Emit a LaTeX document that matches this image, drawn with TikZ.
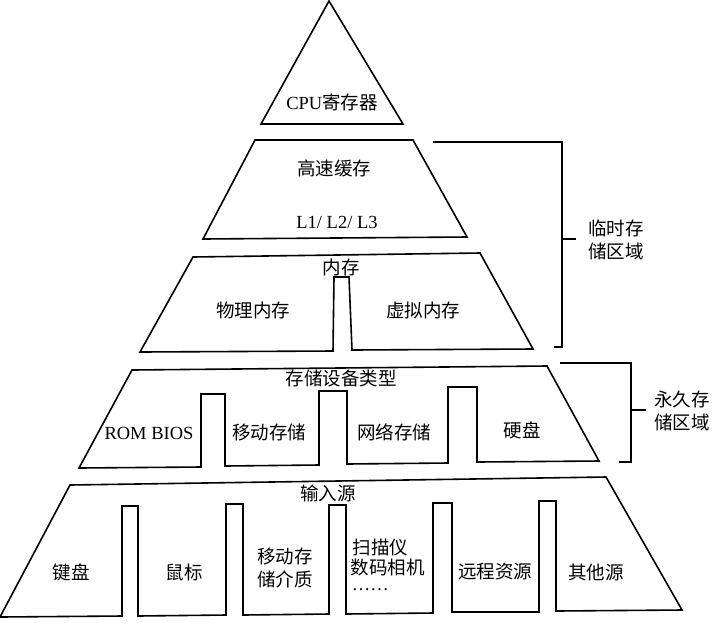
\documentclass[tikz,border=0pt]{standalone}
\usepackage{fontspec}
\setmainfont{Liberation Serif}
\newfontfamily\cjk{Noto Sans CJK SC}
\newcommand{\lat}[1]{{\rmfamily #1}}

\begin{document}
\begin{tikzpicture}
  [x=1pt,y=-1pt,line width=1.6pt,line join=miter,
   every node/.style={inner sep=0pt,font=\fontsize{18.5}{23}\selectfont\cjk,align=center}]
  \useasboundingbox (0,0) rectangle (719,622);

  % levels of the pyramid
  \draw (329,1) -- (403,124) -- (261,124) -- cycle;
  \draw (255,140) -- (413,140) -- (467,237) -- (203,239) -- cycle;
  \draw (193,257) -- (480,253) -- (533,349) -- (352,350) -- (349,277)
    -- (334,277) -- (333,351) -- (140,352) -- cycle;
  \draw (132,370) -- (547,366) -- (599,461)
    -- (477,462) -- (477,387) -- (448,387) -- (448,463)
    -- (347,464) -- (347,391) -- (319,391) -- (319,465)
    -- (225,466) -- (225,394) -- (201,394) -- (201,467)
    -- (79,468) -- cycle;
  \draw (70,485) -- (606,477) -- (682,610)
    -- (556,611) -- (556,501) -- (539,501) -- (539,612)
    -- (452,612) -- (452,503) -- (433,503) -- (433,613)
    -- (346,614) -- (346,505) -- (329,505) -- (329,614)
    -- (243,615) -- (243,504) -- (226,504) -- (226,615)
    -- (138,616) -- (138,506) -- (122,506) -- (122,616)
    -- (0,617) -- cycle;

  % brackets
  \draw (433,142) -- (562,142) -- (562,347) -- (554,347);
  \draw (562,239) -- (576,239);
  \draw (560,363) -- (631,363) -- (631,462) -- (619,462);
  \draw (631,410) -- (646,410);

  \node (cpu)   at (332,102) {\lat{CPU}寄存器};
  \node (cache) at (334,168) {高速缓存};
  \node (lev)   at (337,222) {\lat{L1/ L2/ L3}};
  \node (mem)   at (341,267) {内存};
  \node (phys)  at (253,310) {物理内存};
  \node (virt)  at (423,310) {虚拟内存};
  \node (dev)   at (341,378) {存储设备类型};
  \node (rom)   at (149,433) {\lat{ROM BIOS}};
  \node (mob)   at (269,432) {移动存储};
  \node (net)   at (394,432) {网络存储};
  \node (hdd)   at (522,430) {硬盘};
  \node (src)   at (328,493) {输入源};

  \foreach \name/\x/\txt in {kbd/71/键盘, mouse/184/鼠标, remote/495/远程资源, other/596/其他源}
    \node (\name) at (\x,572) {\txt};
  \node (media) at (285,568) {移动存\\储介质};
  \node[anchor=west] (scan) at (352,547) {扫描仪};
  \node[anchor=west] (cam)  at (350,567) {数码相机};
  \node[anchor=west] (dots) at (351,590) {\lat{……}};

  \node (temp) at (616,240) {临时存\\储区域};
  \node (perm) at (682,411) {永久存\\储区域};

\end{tikzpicture}
\end{document}
